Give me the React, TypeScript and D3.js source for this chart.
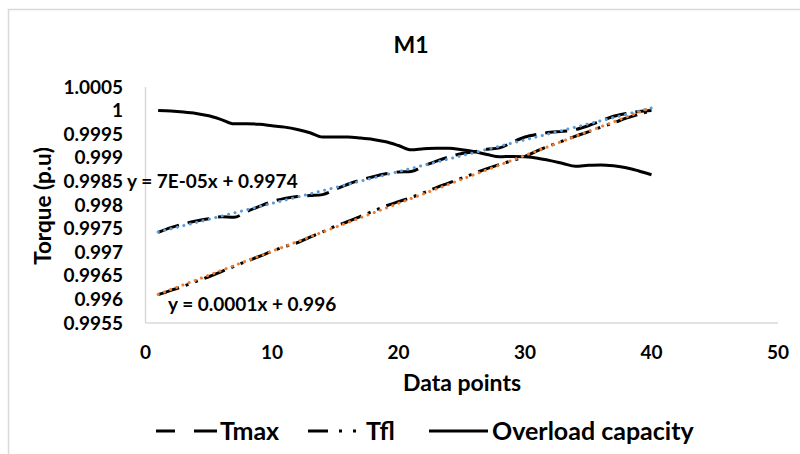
import React from 'react';
import * as d3 from 'd3';

// data (x = data point 1..40)
const points = d3.range(1, 41);

const tmax = [
  0.99742, 0.99752, 0.9976, 0.99766, 0.99771, 0.99775, 0.99774, 0.99786, 0.99797, 0.99807,
  0.99814, 0.99818, 0.9982, 0.99822, 0.99833, 0.99844, 0.99853, 0.9986, 0.99866, 0.9987,
  0.99871, 0.99883, 0.99893, 0.99902, 0.99909, 0.99913, 0.99918, 0.99921, 0.99933, 0.99944,
  0.9995, 0.99954, 0.99956, 0.9996, 0.99968, 0.99978, 0.99988, 0.99994, 0.99998, 1.0,
];

const tfl = [
  0.9961, 0.99619, 0.99628, 0.99638, 0.99648, 0.99659, 0.9967, 0.99681, 0.99691, 0.99702,
  0.99712, 0.9972, 0.99732, 0.99743, 0.99755, 0.99765, 0.99776, 0.99787, 0.99798, 0.99807,
  0.99816, 0.99826, 0.99837, 0.99847, 0.99857, 0.99867, 0.99877, 0.99886, 0.99894, 0.99903,
  0.99915, 0.99926, 0.99936, 0.99946, 0.99955, 0.99965, 0.99974, 0.99984, 0.99992, 1.0,
];

const overload = [
  1.0, 0.99999, 0.99997, 0.99994, 0.99989, 0.99981, 0.99972, 0.99972, 0.99971, 0.99968,
  0.99965, 0.9996, 0.99953, 0.99944, 0.99944, 0.99944, 0.99942, 0.99939, 0.99934, 0.99926,
  0.99917, 0.99919, 0.9992, 0.9992, 0.99917, 0.99913, 0.99907, 0.99902, 0.99903, 0.99902,
  0.99899, 0.99894, 0.99888, 0.99882, 0.99884, 0.99885, 0.99883, 0.99879, 0.99872, 0.99864,
];

const xTicks = [0, 10, 20, 30, 40, 50];
const yTicks = [0.9955, 0.996, 0.9965, 0.997, 0.9975, 0.998, 0.9985, 0.999, 0.9995, 1, 1.0005];
const legendLabels = ['Tmax', 'Tfl', 'Overload capacity'];
const trendLabels = ['y = 7E-05x + 0.9974', 'y = 0.0001x + 0.996'];

const font = 'Lato, "Open Sans", sans-serif';

// least squares fit, like the excel trendline
const fit = (ys: number[]) => {
  const mx = d3.mean(points)!;
  const my = d3.mean(ys)!;
  let num = 0;
  let den = 0;
  points.forEach((x, i) => {
    num += (x - mx) * (ys[i] - my);
    den += (x - mx) * (x - mx);
  });
  const b = num / den;
  return (x: number) => my + b * (x - mx);
};

export default function App() {
  const width = 800;
  const height = 454;

  const x = d3.scaleLinear().domain([0, 50]).range([145.5, 778]);
  const y = d3.scaleLinear().domain([0.9955, 1.0005]).range([323, 87]);

  const line = d3
    .line<number>()
    .x((_, i) => x(points[i]))
    .y((d) => y(d))
    .curve(d3.curveMonotoneX);

  const trendLine = (ys: number[]) => {
    const f = fit(ys);
    return d3.line<number>().x((d) => x(d)).y((d) => y(f(d)))([1, 40]) ?? '';
  };

  const fmt = (v: number) => String(+v.toFixed(4));

  return (
    <svg
      width={width}
      height={height}
      style={{ position: 'absolute', left: 0, top: 0, background: '#fff' }}
      fontFamily={font}
      fontWeight="bold"
    >
      <rect x={8.5} y={9.5} width={900} height={600} fill="#fff" stroke="#d9d9d9" strokeWidth={1.5} />

      {/* title */}
      <text x={411} y={45} dy="0.35em" textAnchor="middle" fontSize={23} fill="#000">M1</text>

      {/* axes lines */}
      <line x1={x(0)} x2={x(0)} y1={y(1.0005)} y2={y(0.9955)} stroke="#d9d9d9" strokeWidth={1.5} />
      <line x1={x(0)} x2={x(50)} y1={y(0.9955)} y2={y(0.9955)} stroke="#d9d9d9" strokeWidth={1.5} />

      {/* y ticks */}
      {yTicks.map((t) => (
        <text key={t} x={123} y={y(t)} dy="0.35em" textAnchor="end" fontSize={19} fill="#000">
          {fmt(t)}
        </text>
      ))}

      {/* x ticks */}
      {xTicks.map((t) => (
        <text key={t} x={x(t)} y={352} dy="0.35em" textAnchor="middle" fontSize={19} fill="#000">
          {t}
        </text>
      ))}

      {/* axis titles */}
      <text x={462} y={383} dy="0.35em" textAnchor="middle" fontSize={23} fill="#000">Data points</text>
      <text
        transform={`translate(43,206) rotate(-90)`}
        dy="0.35em"
        textAnchor="middle"
        fontSize={22.5}
        fill="#000"
      >
        Torque (p.u)
      </text>

      {/* series */}
      <path d={line(overload) ?? ''} fill="none" stroke="#000" strokeWidth={3} />
      <path d={line(tmax) ?? ''} fill="none" stroke="#000" strokeWidth={3} strokeDasharray="22,9" />
      <path d={line(tfl) ?? ''} fill="none" stroke="#000" strokeWidth={3} strokeDasharray="22,7,3,7,3,7" />

      {/* trendlines */}
      <path d={trendLine(tmax)} fill="none" stroke="#5b9bd5" strokeWidth={3} strokeDasharray="0.1,6.5" strokeLinecap="round" />
      <path d={trendLine(tfl)} fill="none" stroke="#ed7d31" strokeWidth={3} strokeDasharray="0.1,6.5" strokeLinecap="round" />

      {/* trendline equations */}
      <text x={127} y={181} dy="0.35em" fontSize={19} fill="#000">{trendLabels[0]}</text>
      <text x={168} y={304} dy="0.35em" fontSize={19} fill="#000">{trendLabels[1]}</text>

      {/* legend */}
      <g fontSize={25} fill="#000">
        <line x1={156} x2={217} y1={431} y2={431} stroke="#000" strokeWidth={3} strokeDasharray="19,19,23,10" />
        <text x={220} y={431} dy="0.35em">{legendLabels[0]}</text>
        <line x1={308} x2={360} y1={431} y2={431} stroke="#000" strokeWidth={3} strokeDasharray="20,11,3,11,3,20" />
        <text x={366} y={431} dy="0.35em">{legendLabels[1]}</text>
        <line x1={429} x2={488} y1={431} y2={431} stroke="#000" strokeWidth={3} />
        <text x={492} y={431} dy="0.35em">{legendLabels[2]}</text>
      </g>
    </svg>
  );
}
